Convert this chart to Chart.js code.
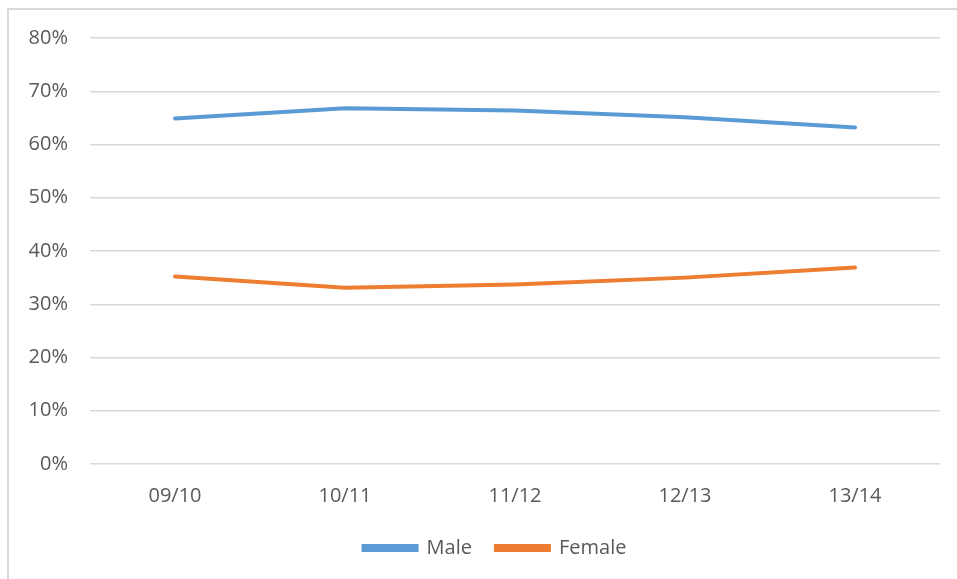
<!DOCTYPE html>
<html>
<head>
<meta charset="utf-8">
<script src="https://cdn.jsdelivr.net/npm/chart.js@4/dist/chart.umd.min.js"></script>
<style>
    html, body { margin: 0; padding: 0; background: #ffffff; }
    #wrap { position: relative; width: 957px; height: 579px; }
</style>
</head>
<body>
<div id="wrap"><canvas id="chart_canvas" width="957" height="579"></canvas></div>
<script>
    var year_labels = ["09/10", "10/11", "11/12", "12/13", "13/14"];
    var male_values = [0.649, 0.668, 0.664, 0.651, 0.632];
    var female_values = [0.352, 0.331, 0.337, 0.350, 0.369];

    var text_colour = "#595959";
    var pad_left = 20;

    // light grey frame of the chart object (top and left edges visible)
    var frame_plugin = {
        id: "frame",
        beforeDraw: function (chart) {
            var ctx = chart.ctx;
            ctx.save();
            ctx.strokeStyle = "#d9d9d9";
            ctx.lineWidth = 2;
            ctx.beginPath();
            ctx.moveTo(8, 600);
            ctx.lineTo(8, 9);
            ctx.lineTo(970, 9);
            ctx.stroke();
            ctx.restore();
        }
    };

    // legend sits a little right of centre in the original
    var legend_shift = {
        id: "legend_shift",
        afterLayout: function (chart) {
            chart.legend.left += 15;
            chart.legend.right += 15;
        }
    };

    var cxt = document.getElementById("chart_canvas").getContext("2d");
    new Chart(cxt, {
        type: "line",
        data: {
            labels: year_labels,
            datasets: [{
                label: "Male",
                data: male_values,
                borderColor: "#5b9bd5",
                backgroundColor: "#5b9bd5",
                borderWidth: 4,
                pointRadius: 0,
                borderCapStyle: "round"
            }, {
                label: "Female",
                data: female_values,
                borderColor: "#ed7d31",
                backgroundColor: "#ed7d31",
                borderWidth: 4,
                pointRadius: 0,
                borderCapStyle: "round"
            }]
        },
        options: {
            responsive: false,
            animation: false,
            layout: { padding: { left: pad_left, right: 17, top: 38, bottom: 11 } },
            plugins: {
                tooltip: { enabled: false },
                legend: {
                    position: "bottom",
                    labels: {
                        color: text_colour,
                        font: { family: "'Open Sans'", size: 20 },
                        boxWidth: 53,
                        boxHeight: 4,
                        padding: 24
                    }
                }
            },
            scales: {
                x: {
                    offset: true,
                    grid: { display: false, drawTicks: false },
                    border: { display: false },
                    ticks: {
                        color: text_colour,
                        font: { family: "'Open Sans'", size: 20 },
                        padding: 20,
                        maxRotation: 0
                    },
                    afterFit: function (scale) { scale.height = 50; }
                },
                y: {
                    min: 0,
                    max: 0.8,
                    grid: { color: "#d9d9d9", lineWidth: 1.5, drawTicks: false },
                    border: { display: false },
                    ticks: {
                        stepSize: 0.1,
                        color: text_colour,
                        font: { family: "'Open Sans'", size: 20 },
                        padding: 22,
                        callback: function (v) { return Math.round(v * 100) + "%"; }
                    },
                    afterFit: function (scale) { scale.width = 90 - pad_left; }
                }
            }
        },
        plugins: [frame_plugin, legend_shift]
    });
</script>
</body>
</html>
